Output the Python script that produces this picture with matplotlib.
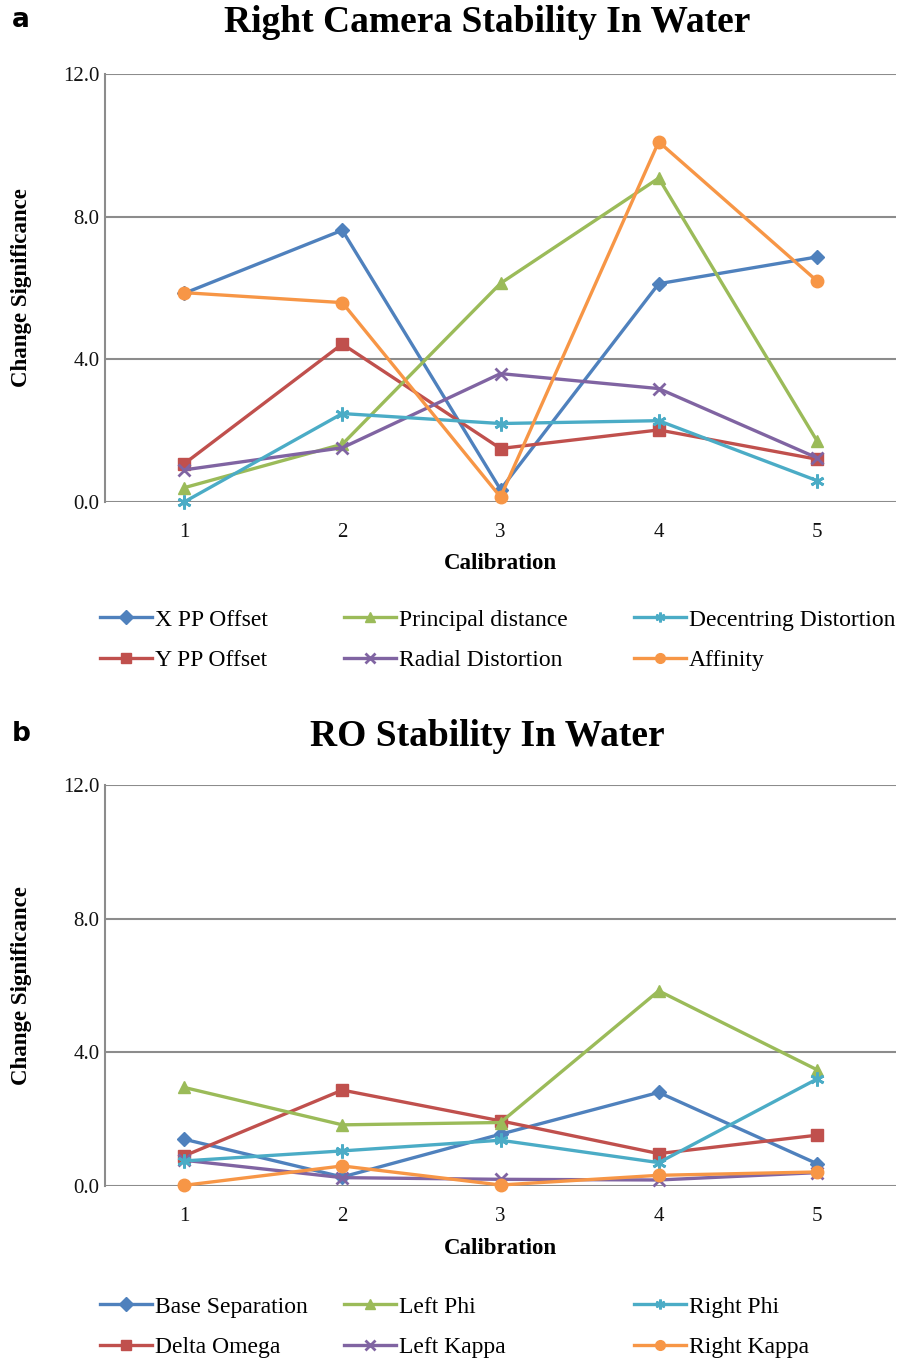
import matplotlib
matplotlib.use("Agg")
import matplotlib.pyplot as plt

calibration = [1, 2, 3, 4, 5]
y_ticks = [0, 4, 8, 12]

# Panel a: Right Camera Stability In Water
x_pp_offset = [5.85, 7.62, 0.35, 6.12, 6.87]
y_pp_offset = [1.07, 4.43, 1.50, 2.02, 1.20]
principal_distance = [0.40, 1.62, 6.13, 9.08, 1.72]
radial_distortion = [0.90, 1.52, 3.60, 3.18, 1.24]
decentring_distortion = [0.00, 2.48, 2.20, 2.28, 0.60]
affinity = [5.87, 5.59, 0.14, 10.10, 6.20]

# Panel b: RO Stability In Water
base_separation = [1.40, 0.27, 1.55, 2.80, 0.67]
delta_omega = [0.90, 2.87, 1.95, 0.97, 1.52]
left_phi = [2.95, 1.83, 1.90, 5.84, 3.48]
left_kappa = [0.77, 0.25, 0.20, 0.18, 0.40]
right_phi = [0.75, 1.05, 1.37, 0.70, 3.20]
right_kappa = [0.02, 0.60, 0.03, 0.32, 0.42]

BLUE = "#4F81BD"; RED = "#C0504D"; GREEN = "#9BBB59"
PURPLE = "#8064A2"; CYAN = "#4BACC6"; ORANGE = "#F79646"
STAR = (6, 2, 0)

series_a = [
    ("X PP Offset", x_pp_offset, BLUE, "D", 7),
    ("Y PP Offset", y_pp_offset, RED, "s", 8),
    ("Principal distance", principal_distance, GREEN, "^", 9),
    ("Radial Distortion", radial_distortion, PURPLE, "x", 9),
    ("Decentring Distortion", decentring_distortion, CYAN, STAR, 10),
    ("Affinity", affinity, ORANGE, "o", 9),
]
series_b = [
    ("Base Separation", base_separation, BLUE, "D", 7),
    ("Delta Omega", delta_omega, RED, "s", 8),
    ("Left Phi", left_phi, GREEN, "^", 9),
    ("Left Kappa", left_kappa, PURPLE, "x", 9),
    ("Right Phi", right_phi, CYAN, STAR, 10),
    ("Right Kappa", right_kappa, ORANGE, "o", 9),
]

SERIF = "Liberation Serif"
W, H = 911, 1361
fig = plt.figure(figsize=(W / 100, H / 100), dpi=100)

def fx(px):
    return px / W

def fy(py):
    return 1 - py / H

def panel(top, bottom, series, title, letter, title_y, letter_y, xlabel_y, leg_rows):
    ax = fig.add_axes([fx(105), fy(bottom), fx(896) - fx(105), (bottom - top) / H])
    handles = []
    for name, vals, col, mk, ms in series:
        mew = 2 if mk in ("x", STAR) else 1
        h, = ax.plot(calibration, vals, color=col, lw=2.4, marker=mk, ms=ms,
                     mew=mew, mec=col, mfc=col, label=name, clip_on=False, zorder=3)
        handles.append(h)
    ax.set_xlim(0.5, 5.5)
    ax.set_ylim(0, 12)
    ax.set_yticks(y_ticks)
    ax.set_yticklabels([f"{v:.1f}" for v in y_ticks])
    ax.set_xticks(calibration)
    ax.set_xticklabels([str(c) for c in calibration])
    ax.grid(axis="y", color="#8c8c8c", lw=1.5)
    ax.set_axisbelow(True)
    for s in ("top", "right", "bottom"):
        ax.spines[s].set_visible(False)
    ax.spines["left"].set_color("#8c8c8c")
    ax.spines["left"].set_linewidth(1.5)
    ax.tick_params(axis="both", length=0, labelsize=15, labelcolor="#111111")
    ax.tick_params(axis="x", pad=15)
    ax.tick_params(axis="y", pad=4)
    for lab in ax.get_xticklabels() + ax.get_yticklabels():
        lab.set_family(SERIF)
    fig.text(fx(22), fy((top + bottom) / 2), "Change Significance", rotation=90,
             ha="center", va="center", family=SERIF, fontweight="bold", fontsize=16.5)
    fig.text(fx(500), fy(xlabel_y), "Calibration", ha="center", va="center",
             family=SERIF, fontweight="bold", fontsize=16.5)
    fig.text(fx(487), fy(title_y), title, ha="center", va="center",
             family=SERIF, fontweight="bold", fontsize=27)
    fig.text(fx(12), fy(letter_y), letter, ha="left", va="center",
             family="DejaVu Sans", fontweight="bold", fontsize=19)
    # legends: 3 columns, 2 rows (column-major)
    col_x = [100, 344, 634]
    for ci in range(3):
        hs = handles[2 * ci:2 * ci + 2]
        lg = fig.legend(handles=hs, labels=[h.get_label() for h in hs],
                        loc="upper left",
                        bbox_to_anchor=(fx(col_x[ci]), fy(leg_rows[0] - 9)),
                        frameon=False, ncol=1, handlelength=2.2, handletextpad=0.12,
                        labelspacing=0.8, borderpad=0, borderaxespad=0,
                        prop={"family": SERIF, "size": 17})
        for lh in lg.legend_handles:
            lh.set_markersize(7)

panel(74, 502, series_a, "Right Camera Stability In Water", "a", 23, 20, 563, (618, 658))
panel(785, 1186, series_b, "RO Stability In Water", "b", 737, 734, 1249, (1305, 1345))

fig.savefig("out.png", dpi=100)
